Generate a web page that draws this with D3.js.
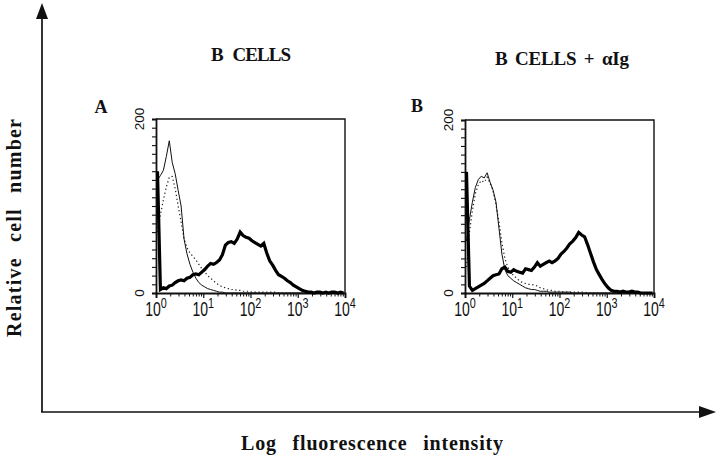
<!DOCTYPE html>
<html><head><meta charset="utf-8">
<script src="https://cdn.jsdelivr.net/npm/d3@7"></script>
<style>body{margin:0;background:#fff} svg{display:block}</style>
</head><body>
<svg id="chart" width="720" height="461"></svg>
<script>
// ---------- data ----------
const panelLetters = ["A", "B"];
const panelTitles = ["B CELLS", "B CELLS + \u03b1Ig"];
const xDecadeExponents = [0, 1, 2, 3, 4];
const yLabelledTicks = [0, 200];
const binsPerDecade = 16; // 64 channels over 4 decades

const thinA = [
130,135,141,157,175,150,137,118,
100, 62, 45, 33, 24, 17, 12,  9,
  7,  5,  4,  3,  2,  1,  1,  0,
  0,  0,  0,  0,  0,  0,  0,  0,
  0,  0,  0,  0,  0,  0,  0,  0,
  0,  0,  0,  0,  0,  0,  0,  0,
  0,  0,  0,  0,  0,  0,  0,  0,
  0,  0,  0,  0,  0,  0,  0,  0];
const dottedA = [
 70, 90,107,122,133,134,120,100,
 82, 62, 52, 46, 42, 38, 33, 28,
 24, 20, 17, 14, 11,  9,  7,  6,
  5,  4,  4,  3,  3,  2,  2,  2,
  1,  1,  1,  1,  1,  1,  1,  1,
  1,  0,  0,  0,  0,  0,  0,  0,
  0,  0,  0,  0,  0,  0,  0,  0,
  0,  0,  0,  0,  0,  0,  0,  0];
const thickA = [
140,  4,  6,  5,  8,  9, 12, 14,
 15, 14, 17, 18, 21, 22, 21, 24,
 27, 31, 34, 33, 35, 38, 44, 55,
 58, 59, 57, 62, 70, 66, 64, 63,
 60, 58, 56, 54, 57, 46, 37, 32,
 26, 21, 19, 17, 14, 12,  9,  7,
  5,  3,  2,  1,  1,  0,  1,  1,
  0,  1,  0,  1,  1,  0,  1,  0];
const thinB = [
 60, 85,105,122,131,135,133,139,
128,119,105, 75, 45, 27, 20, 17,
 14, 12, 10,  8,  6,  5,  4,  4,
  3,  2,  2,  2,  1,  1,  1,  1,
  1,  1,  1,  1,  0,  0,  0,  0,
  0,  0,  0,  0,  0,  0,  0,  0,
  0,  0,  0,  0,  0,  0,  0,  0,
  0,  0,  0,  0,  0,  0,  0,  0];
const dottedB = [
 30, 70, 95,115,125,130,128,134,
127,118,102, 82, 58, 40, 30, 24,
 20, 17, 14, 12, 11, 10, 10,  9,
  8,  6,  5,  4,  3,  3,  2,  2,
  2,  1,  1,  1,  1,  1,  1,  1,
  1,  0,  0,  0,  0,  0,  0,  0,
  0,  0,  0,  0,  0,  0,  0,  0,
  0,  0,  0,  0,  0,  0,  0,  0];
const thickB = [
140,  8,  3,  5,  7,  9, 11, 14,
 17, 20, 21, 22, 28, 30, 25, 24,
 27, 25, 24, 23, 28, 27, 26, 30,
 35, 31, 33, 35, 37, 35, 37, 40,
 45, 48, 52, 57, 60, 64, 70, 67,
 65, 56, 46, 36, 27, 21, 15, 10,
  6,  3,  2,  2,  1,  2,  1,  1,
  2,  1,  1,  0,  0,  0,  0,  0];

const panelSeries = [
  {thin: thinA, dotted: dottedA, thick: thickA},
  {thin: thinB, dotted: dottedB, thick: thickB}
];

// ---------- layout ----------
const svg = d3.select("#chart");
const serif = "'Liberation Serif','Times New Roman',serif";
const sans = "'Liberation Sans',Arial,sans-serif";
const panelBoxes = [
  {x0: 156, x1: 345, y0: 293, y1: 119},
  {x0: 465, x1: 654, y0: 293, y1: 120}
];

// big arrows
const axG = svg.append("g").attr("stroke", "#111").attr("fill", "#111");
axG.append("line").attr("x1", 42).attr("y1", 412).attr("x2", 42).attr("y2", 16).attr("stroke-width", 1.7);
axG.append("path").attr("d", "M42,3 L36,19 L48,19 Z").attr("stroke", "none");
axG.append("line").attr("x1", 41).attr("y1", 412).attr("x2", 702).attr("y2", 412).attr("stroke-width", 1.7);
axG.append("path").attr("d", "M716,412 L699,406 L699,418 Z").attr("stroke", "none");

svg.append("text").attr("transform", "translate(21,228) rotate(-90)")
  .attr("text-anchor", "middle").attr("font-family", serif).attr("font-weight", "bold")
  .attr("font-size", 20).attr("word-spacing", 9).attr("textLength", 218).attr("lengthAdjust", "spacing")
  .attr("fill", "#111")
  .text("Relative cell number");
svg.append("text").attr("x", 372).attr("y", 450)
  .attr("text-anchor", "middle").attr("font-family", serif).attr("font-weight", "bold")
  .attr("font-size", 20).attr("word-spacing", 10).attr("textLength", 262).attr("lengthAdjust", "spacing")
  .attr("fill", "#111")
  .text("Log fluorescence intensity");

const titlePos = [{x: 251, y: 61, len: 80, ws: 6}, {x: 562, y: 65, len: 134, ws: 3}];
const letterPos = [{x: 101, y: 113}, {x: 417, y: 112}];

panelBoxes.forEach((b, p) => {
  const x = d3.scaleLog().domain([1, 1e4]).range([b.x0, b.x1]);
  const y = d3.scaleLinear().domain([0, 200]).range([b.y0, b.y1]);
  const g = svg.append("g");

  // title and letter
  g.append("text").attr("x", titlePos[p].x).attr("y", titlePos[p].y).attr("text-anchor", "middle")
    .attr("font-family", serif).attr("font-weight", "bold").attr("font-size", 19).attr("fill", "#111")
    .attr("word-spacing", titlePos[p].ws).attr("textLength", titlePos[p].len).attr("lengthAdjust", "spacing")
    .text(panelTitles[p]);
  g.append("text").attr("x", letterPos[p].x).attr("y", letterPos[p].y).attr("text-anchor", "middle")
    .attr("font-family", serif).attr("font-weight", "bold").attr("font-size", 18).attr("fill", "#111")
    .text(panelLetters[p]);

  // frame (top and right)
  g.append("path").attr("d", `M${b.x0},${b.y1} H${b.x1} V${b.y0}`)
    .attr("fill", "none").attr("stroke", "#111").attr("stroke-width", 1.4);

  // y axis
  const yAxis = d3.axisLeft(y).tickValues(d3.range(0, 201, 10)).tickSize(4).tickFormat("");
  const ya = g.append("g").attr("transform", `translate(${b.x0},0)`).call(yAxis);
  ya.select(".domain").attr("stroke", "#111").attr("stroke-width", 1.8);
  ya.selectAll(".tick line").attr("stroke", "#111").attr("stroke-width", 1.1);
  yLabelledTicks.forEach(v => {
    g.append("text").attr("transform", `translate(${b.x0 - 12},${y(v)}) rotate(-90)`)
      .attr("text-anchor", "middle").attr("font-family", sans).attr("font-size", 13.5).attr("fill", "#111")
      .text(String(v));
  });

  // x axis: decades + minor log ticks
  const majors = xDecadeExponents.map(e => Math.pow(10, e));
  const minors = [];
  xDecadeExponents.slice(0, -1).forEach(e => d3.range(2, 10).forEach(m => minors.push(m * Math.pow(10, e))));
  const xa = g.append("g").attr("transform", `translate(0,${b.y0})`)
    .call(d3.axisBottom(x).tickValues(majors).tickSize(5).tickFormat(""));
  xa.select(".domain").attr("stroke", "#111").attr("stroke-width", 1.8);
  xa.selectAll(".tick line").attr("stroke", "#111").attr("stroke-width", 1.2);
  const xm = g.append("g").attr("transform", `translate(0,${b.y0})`)
    .call(d3.axisBottom(x).tickValues(minors).tickSize(3.5).tickFormat(""));
  xm.select(".domain").remove();
  xm.selectAll(".tick line").attr("stroke", "#111");

  xDecadeExponents.forEach(e => {
    const t = g.append("text")
      .attr("transform", `translate(${x(Math.pow(10, e))},${b.y0 + 23}) scale(0.7,1)`)
      .attr("text-anchor", "middle").attr("font-family", sans).attr("font-size", 20).attr("fill", "#111");
    t.append("tspan").text("10");
    t.append("tspan").attr("dy", -8).attr("font-size", 15.5).text(String(e));
  });

  // histograms
  const line = d3.line()
    .x((d, i) => x(Math.pow(10, (i + 0.5) / binsPerDecade)))
    .y(d => y(d));
  const s = panelSeries[p];
  g.append("path").datum(s.dotted).attr("d", line).attr("fill", "none")
    .attr("stroke", "#222").attr("stroke-width", 1.2).attr("stroke-dasharray", "1.3,2.6");
  g.append("path").datum(s.thin).attr("d", line).attr("fill", "none")
    .attr("stroke", "#111").attr("stroke-width", 1);
  g.append("path").datum(s.thick).attr("d", line).attr("fill", "none")
    .attr("stroke", "#000").attr("stroke-width", 3.2).attr("stroke-linejoin", "miter");
});
</script>
</body></html>
